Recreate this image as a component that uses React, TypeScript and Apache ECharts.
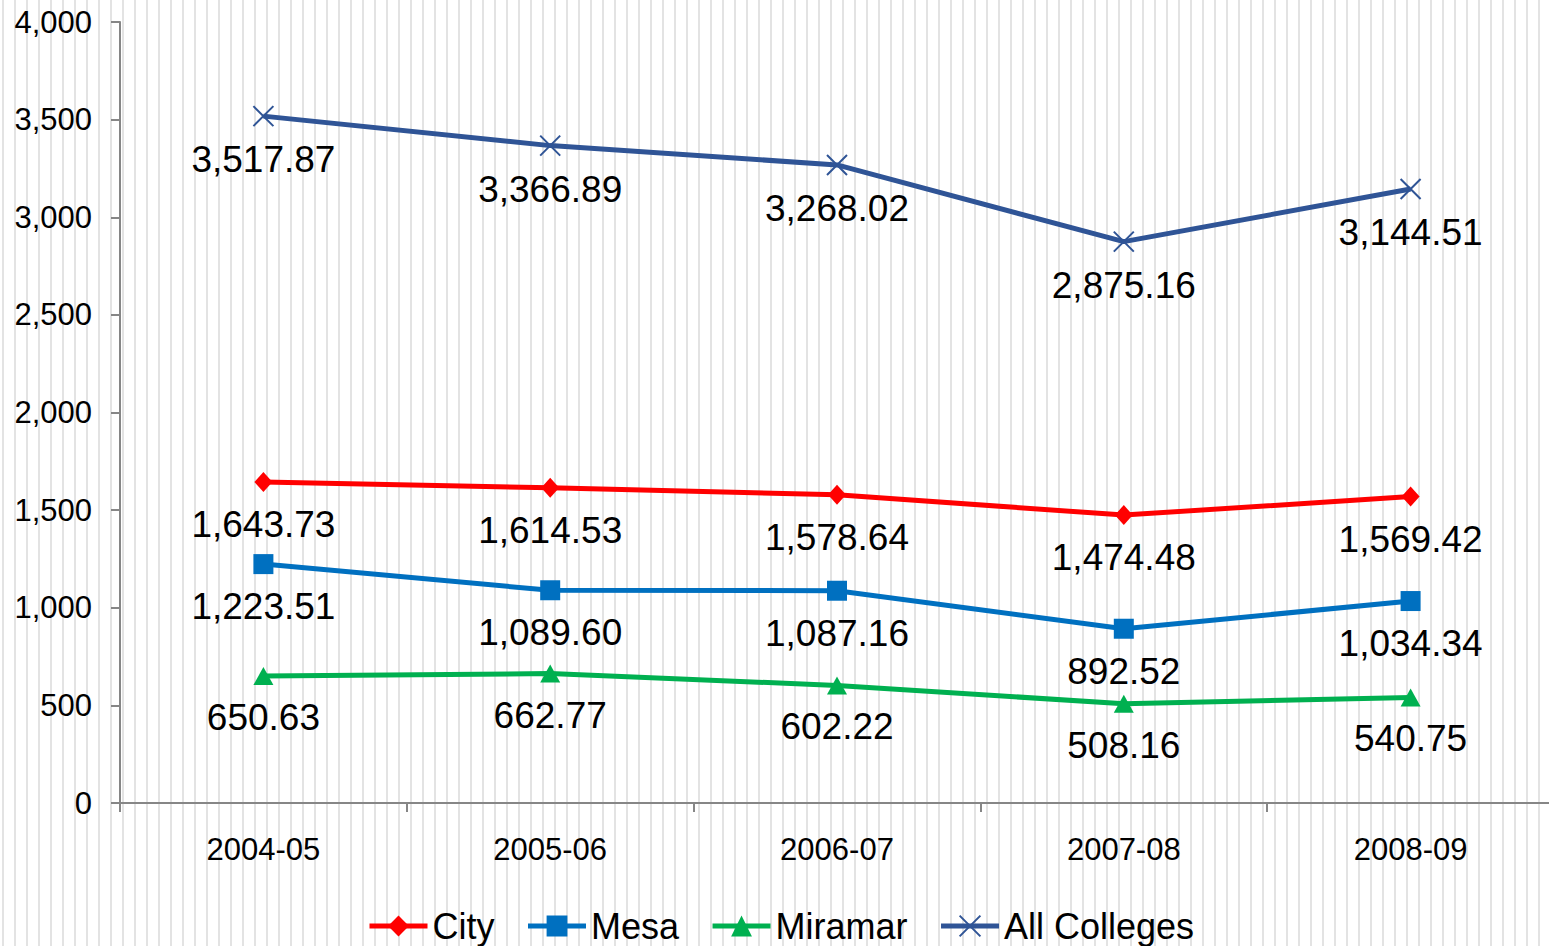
import React, { useEffect, useRef } from "react";
import * as echarts from "echarts";

const categories = ["2004-05", "2005-06", "2006-07", "2007-08", "2008-09"];
const cityValues = [1643.73, 1614.53, 1578.64, 1474.48, 1569.42];
const mesaValues = [1223.51, 1089.6, 1087.16, 892.52, 1034.34];
const miramarValues = [650.63, 662.77, 602.22, 508.16, 540.75];
const allValues = [3517.87, 3366.89, 3268.02, 2875.16, 3144.51];
const seriesNames = ["City", "Mesa", "Miramar", "All Colleges"];

const FONT = "'Liberation Sans', Arial, Helvetica, sans-serif";
const fmt2 = new Intl.NumberFormat("en-US", { minimumFractionDigits: 2, maximumFractionDigits: 2 });
const fmt0 = new Intl.NumberFormat("en-US", { maximumFractionDigits: 0 });

const X_PATH = "path://M0,0L10,10M10,0L0,10";

function makeSeries(name: string, data: number[], color: string, symbol: string, size: any, lw: number, extraItem: any = {}) {
  return {
    name,
    type: "line",
    data,
    symbol,
    symbolSize: size,
    showAllSymbol: true,
    lineStyle: { color, width: lw },
    itemStyle: { color, ...extraItem },
    label: {
      show: true,
      position: "bottom",
      distance: 13,
      color: "#000",
      fontFamily: FONT,
      fontSize: 37,
      lineHeight: 39,
      formatter: (p: any) => fmt2.format(p.value),
    },
    emphasis: { disabled: true },
    z: 3,
  };
}

export default function App() {
  const ref = useRef<HTMLDivElement>(null);
  useEffect(() => {
    if (!ref.current) return;
    const chart = echarts.init(ref.current, undefined, { renderer: "svg" });
    chart.setOption({
      animation: false,
      backgroundColor: "transparent",
      grid: { left: 120, right: 0, top: 22, bottom: 143, containLabel: false },
      legend: {
        bottom: -3,
        left: 362,
        itemWidth: 58,
        itemHeight: 26,
        itemGap: 31,
        data: seriesNames,
        lineStyle: { width: 5 },
        textStyle: { fontFamily: FONT, fontSize: 36, color: "#000" },
      },
      xAxis: {
        type: "category",
        data: categories,
        boundaryGap: true,
        axisLine: { show: true, lineStyle: { color: "#868686", width: 2 } },
        axisTick: { show: true, interval: 0, length: 9, lineStyle: { color: "#868686", width: 2 } },
        axisLabel: { margin: 31, color: "#000", fontFamily: FONT, fontSize: 31, interval: 0 },
        splitLine: { show: false },
      },
      yAxis: {
        type: "value",
        min: 0,
        max: 4000,
        interval: 500,
        axisLine: { show: true, lineStyle: { color: "#868686", width: 2 } },
        axisTick: { show: true, length: 9, lineStyle: { color: "#868686", width: 2 } },
        axisLabel: {
          margin: 28,
          color: "#000",
          fontFamily: FONT,
          fontSize: 31,
          formatter: (v: number) => fmt0.format(v),
        },
        splitLine: { show: false },
      },
      series: [
        makeSeries(seriesNames[0], cityValues, "#FF0000", "diamond", [18, 20], 5),
        makeSeries(seriesNames[1], mesaValues, "#0070C0", "rect", 20, 5),
        makeSeries(seriesNames[2], miramarValues, "#00B050", "triangle", [20, 18], 5),
        makeSeries(seriesNames[3], allValues, "#2F5496", X_PATH, 20, 5, {
          borderColor: "#2F5496",
          borderWidth: 2,
        }),
      ],
    });
    return () => chart.dispose();
  }, []);

  return (
    <div
      style={{
        position: "fixed",
        left: 0,
        top: 0,
        width: 1549,
        height: 946,
        overflow: "hidden",
        backgroundColor: "#fff",
        backgroundImage:
          "repeating-linear-gradient(90deg, #ffffff 0px, #ffffff 2px, #e3e3e3 2px, #e3e3e3 4px, #ffffff 4px, #ffffff 12px)",
      }}
    >
      <div ref={ref} style={{ width: 1554, height: 946 }} />
    </div>
  );
}
